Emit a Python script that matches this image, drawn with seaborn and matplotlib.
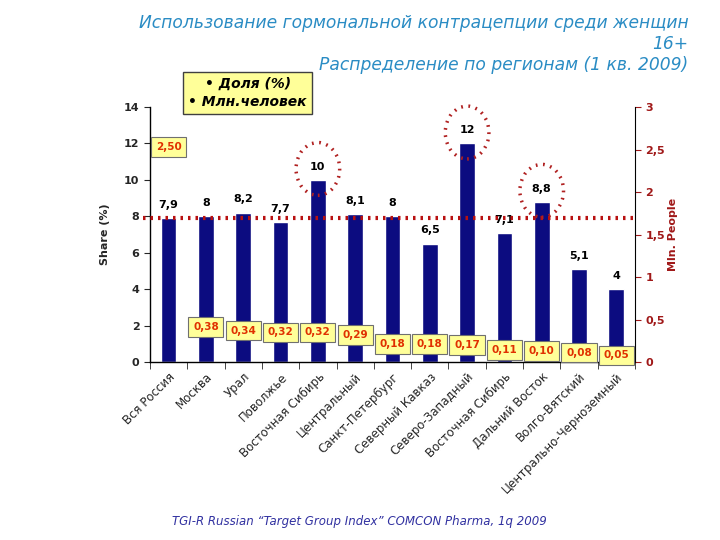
import numpy as np
import pandas as pd
import matplotlib
matplotlib.use('Agg')
import matplotlib.pyplot as plt
import seaborn as sns
from matplotlib.patches import Ellipse

regions = ['Вся Россия', 'Москва', 'Урал', 'Поволжье', 'Восточная Сибирь',
           'Центральный', 'Санкт-Петербург', 'Северный Кавказ', 'Северо-Западный',
           'Восточная Сибирь', 'Дальний Восток', 'Волго-Вятский', 'Центрально-Черноземный']
share = [7.9, 8, 8.2, 7.7, 10, 8.1, 8, 6.5, 12, 7.1, 8.8, 5.1, 4]
share_labels = ['7,9', '8', '8,2', '7,7', '10', '8,1', '8', '6,5', '12', '7,1', '8,8', '5,1', '4']
mln = [2.50, 0.38, 0.34, 0.32, 0.32, 0.29, 0.18, 0.18, 0.17, 0.11, 0.10, 0.08, 0.05]
highlight = [4, 8, 10]
avg_share = 7.9

df = pd.DataFrame({'region': [f'{i}' for i in range(len(regions))], 'share': share})

sns.set_style('white')
plt.rcParams['font.family'] = ['DejaVu Sans']

fig = plt.figure(figsize=(7.2, 5.4), dpi=100)
ax = fig.add_axes([0.2083, 0.3296, 0.6736, 0.4722])
sns.barplot(data=df, x='region', y='share', color='#0c0c80', saturation=1, width=0.42, ax=ax)
ax.set_xlim(-0.5, len(regions) - 0.5)
ax.set_ylim(0, 14)
ax.set_yticks(range(0, 15, 2))
ax.tick_params(axis='y', labelsize=8, length=4, direction='out', left=True)
for lab in ax.get_yticklabels():
    lab.set_fontweight('bold')
ax.set_xticks(range(len(regions)))
ax.set_xticklabels(regions, rotation=45, ha='right', rotation_mode='anchor', fontsize=8.5)
ax.tick_params(axis='x', length=0, pad=6)
ax.set_xticks(np.arange(-0.5, len(regions), 1), minor=True)
ax.tick_params(axis='x', which='minor', length=5, direction='out', bottom=True)
ax.set_xlabel('')
ax.set_ylabel('Share (%)', fontsize=8, fontweight='bold', labelpad=10)
ax.spines['top'].set_visible(False)
ax.spines['right'].set_visible(False)
for s in ['left', 'bottom']:
    ax.spines[s].set_color('black')
    ax.spines[s].set_linewidth(1)

for i, (v, t) in enumerate(zip(share, share_labels)):
    ax.text(i, v + 0.45, t, ha='center', va='bottom', fontsize=8, fontweight='bold', color='black')

ax.axhline(avg_share, xmin=-0.015, xmax=1.0, color='#b81010', linewidth=3,
           linestyle=(0, (0.6, 1.2)), clip_on=False, zorder=5)

for i in highlight:
    ax.add_patch(Ellipse((i, share[i] + 0.6), 1.17, 2.9, fill=False, edgecolor='#b02020',
                         linewidth=2.5, linestyle=(0, (0.5, 1.6)), clip_on=False, zorder=6))

ax2 = ax.twinx()
ax2.set_ylim(0, 3)
ax2.set_yticks([0, 0.5, 1, 1.5, 2, 2.5, 3])
ax2.set_yticklabels(['0', '0,5', '1', '1,5', '2', '2,5', '3'])
ax2.tick_params(axis='y', labelsize=8, colors='#a01818', length=4, direction='out', right=True)
for lab in ax2.get_yticklabels():
    lab.set_fontweight('bold')
ax2.set_ylabel('Mln. People', fontsize=8, fontweight='bold', color='#a01818', labelpad=2)
for s in ['top', 'left', 'bottom']:
    ax2.spines[s].set_visible(False)
ax2.spines['right'].set_color('black')

for i, v in enumerate(mln):
    ax2.text(i, v + 0.03, f'{v:.2f}'.replace('.', ','), ha='center', va='center', fontsize=7.5,
             fontweight='bold', color='#e03000', zorder=7,
             bbox=dict(boxstyle='square,pad=0.45', facecolor='#ffff99', edgecolor='#707070', linewidth=0.8))

fig.text(0.956, 0.975, 'Использование гормональной контрацепции среди женщин\n16+\nРаспределение по регионам (1 кв. 2009)',
         ha='right', va='top', multialignment='right', fontsize=12.3, style='italic',
         color='#2a8cc4', linespacing=1.25)

fig.text(0.344, 0.828, '• Доля (%)\n• Млн.человек', ha='center', va='center', multialignment='center',
         fontsize=10, fontweight='bold', style='italic', color='black', linespacing=1.3,
         bbox=dict(boxstyle='square,pad=0.4', facecolor='#ffff99', edgecolor='#404040', linewidth=1))

fig.text(0.239, 0.035, 'TGI-R Russian “Target Group Index” COMCON Pharma, 1q 2009',
         ha='left', va='center', fontsize=8.5, style='italic', color='#3030a0')

fig.savefig('out.png', dpi=100)
